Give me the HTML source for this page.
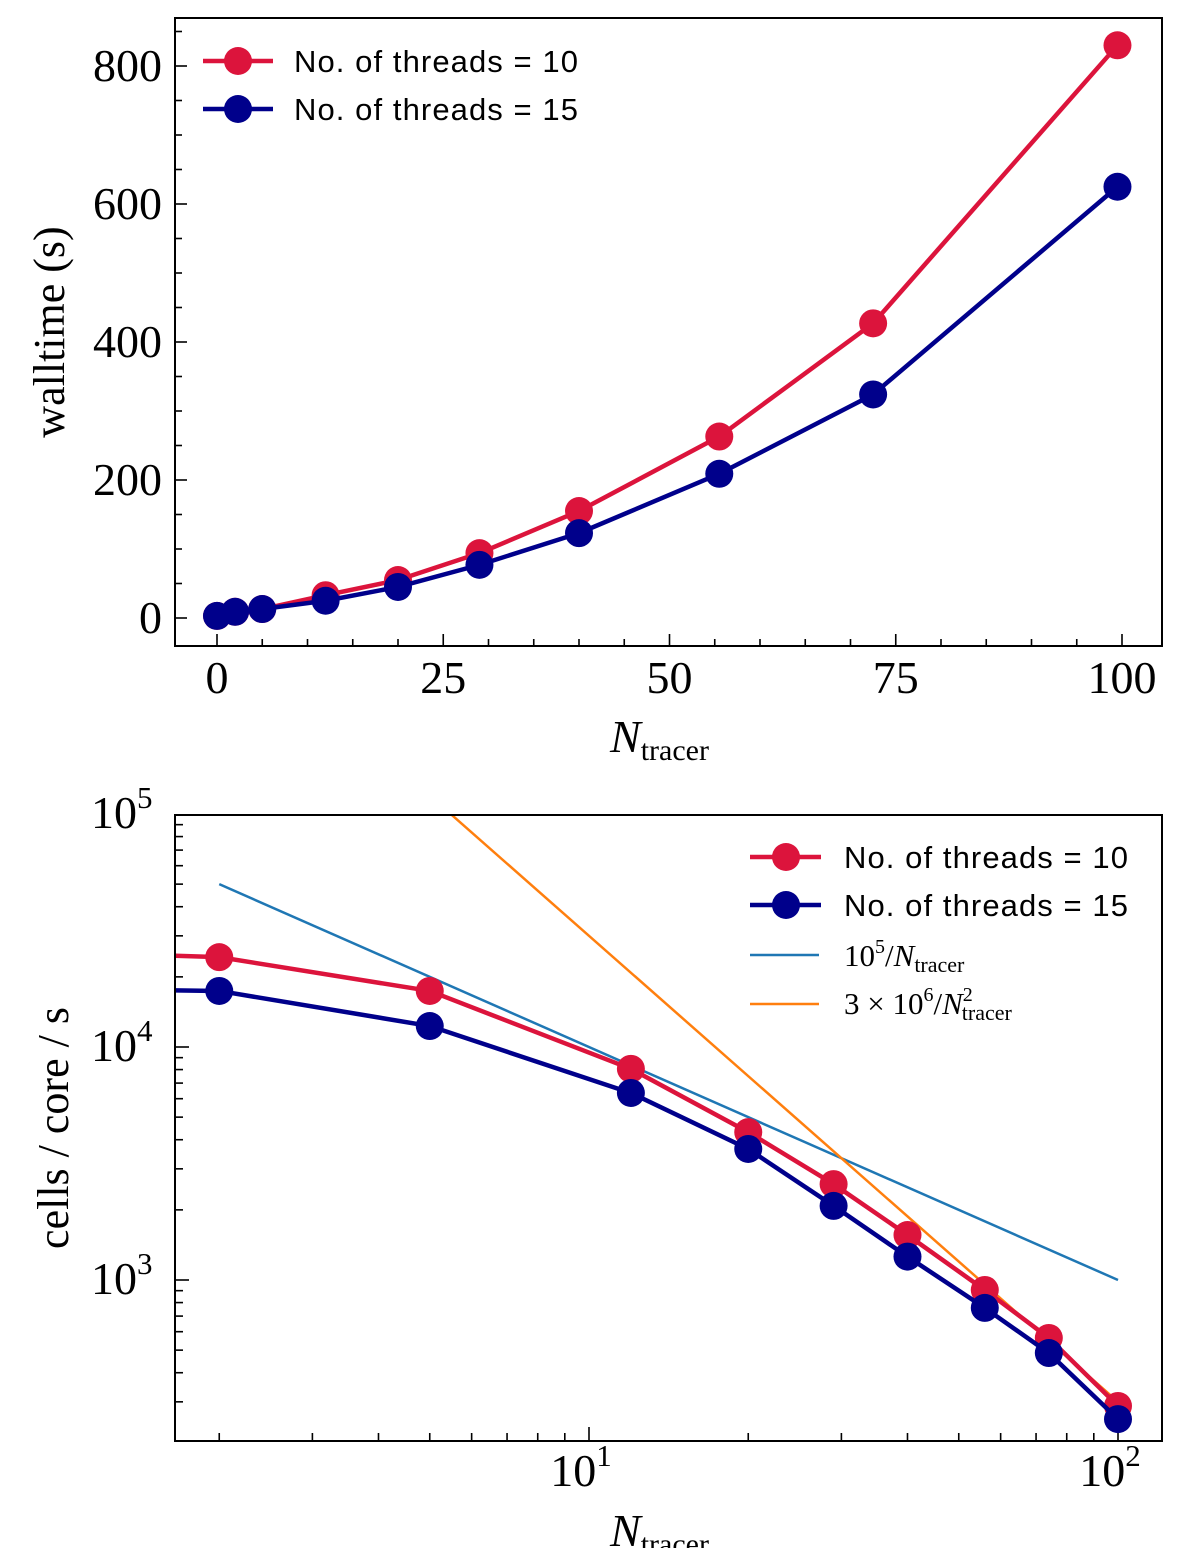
<!DOCTYPE html>
<html><head><meta charset="utf-8">
<style>
html,body{margin:0;padding:0;background:#fff;width:1200px;height:1548px;overflow:hidden}
svg{display:block}
.serif{font-family:"Liberation Serif",serif}
.sans{font-family:"Liberation Sans",sans-serif}
</style></head>
<body>
<svg id="fig" width="1200" height="1548" viewBox="0 0 1200 1548" xmlns="http://www.w3.org/2000/svg"></svg>
<script>
// ---- Top panel data ----
const topN = [0, 2, 5, 12, 20, 29, 40, 55.5, 72.5, 99.5];
const topWall10 = [3, 9, 13, 33, 55, 94, 155, 263, 427, 830];
const topWall15 = [3, 9, 13, 25, 45, 77, 123, 209, 324, 625];
const topXTicks = [0, 25, 50, 75, 100];
const topYTicks = [0, 200, 400, 600, 800];
// ---- Bottom panel data ----
const botN = [1, 2, 5, 12, 20, 29, 40, 56, 74, 100];
const botRate10 = [25500, 24300, 17400, 8060, 4310, 2580, 1560, 906, 564, 288];
const botRate15 = [17800, 17400, 12300, 6350, 3650, 2080, 1260, 759, 486, 253];
const refLinearN = [2, 100];
const refQuadN = [3, 100];
const botXTickExp = [1, 2];
const botYTickExp = [3, 4, 5];

const NS = "http://www.w3.org/2000/svg";
const svg = document.getElementById('fig');
function mk(tag, attrs, parent) {
  const e = document.createElementNS(NS, tag);
  for (const k in attrs) e.setAttribute(k, attrs[k]);
  (parent || svg).appendChild(e);
  return e;
}
const RED = "#dc143c", BLUE = "#00008b";

// ===== TOP PANEL =====
const T = {l:175, r:1162, t:18, b:646};
const tx = v => 217 + (v - 0) * (1122 - 217) / 100;
const ty = v => 618 - v * (618 - 66) / 800;
const gTop = mk('g', {});


mk('defs', {}).innerHTML = '<clipPath id="cTop"><rect x="175" y="18" width="987" height="628"/></clipPath><clipPath id="cBot"><rect x="175" y="815" width="987" height="626"/></clipPath>';

for (let v = 0; v <= 100; v += 5) {
  const x = tx(v), len = v % 25 === 0 ? 12 : 7;
  mk('line', {x1:x, x2:x, y1:T.b, y2:T.b-len, stroke:'#000', 'stroke-width':1.6}, gTop);
}
for (let v = 0; v <= 850; v += 50) {
  const y = ty(v); if (y < T.t) continue;
  const len = v % 200 === 0 ? 12 : 7;
  mk('line', {x1:T.l, x2:T.l+len, y1:y, y2:y, stroke:'#000', 'stroke-width':1.6}, gTop);
}
topXTicks.forEach(v => {
  const t = mk('text', {x:tx(v), y:693, 'text-anchor':'middle', 'font-size':46, class:'serif'}, gTop);
  t.textContent = v;
  
  
});
topYTicks.forEach(v => {
  const t = mk('text', {x:162, y:ty(v)+15, 'text-anchor':'end', 'font-size':46, class:'serif'}, gTop);
  t.textContent = v;
  
  
});
function series(g, xs, ys, fx, fy, col, name, clip) {
  const pts = xs.map((x,i) => fx(x)+','+fy(ys[i])).join(' ');
  const sg = mk('g', {'clip-path':'url(#'+clip+')'}, g);
  
  
  mk('polyline', {points:pts, fill:'none', stroke:col, 'stroke-width':4.5, 'stroke-linejoin':'round'}, sg);
  xs.forEach((x,i) => {
    const c = mk('circle', {cx:fx(x), cy:fy(ys[i]), r:14, fill:col}, sg);
    
    
  });
}
series(gTop, topN, topWall10, tx, ty, RED, 'series-threads-10', 'cTop');
series(gTop, topN, topWall15, tx, ty, BLUE, 'series-threads-15', 'cTop');
mk('rect', {x:T.l, y:T.t, width:T.r-T.l, height:T.b-T.t, fill:'none', stroke:'#000', 'stroke-width':2}, gTop);
const lgT = mk('g', {}, gTop);


[[RED,'No. of threads = 10',61],[BLUE,'No. of threads = 15',109]].forEach(([c,l,y]) => {
  mk('line', {x1:203, x2:273, y1:y, y2:y, stroke:c, 'stroke-width':4.5}, lgT);
  mk('circle', {cx:238, cy:y, r:14, fill:c}, lgT);
  const t = mk('text', {x:294, y:y+11, 'font-size':31, class:'sans', textLength:284}, lgT);
  t.textContent = l;
});
let yl = mk('text', {x:0, y:0, 'font-size':44, class:'serif', 'text-anchor':'middle', transform:'translate(64,332) rotate(-90)'}, gTop);
yl.textContent = 'walltime (s)';


let xl = mk('text', {x:610, y:752, 'font-size':46, class:'serif'}, gTop);
xl.innerHTML = '<tspan font-style="italic">N</tspan><tspan font-size="30" dy="8">tracer</tspan>';



// ===== BOTTOM PANEL =====
const B = {l:175, r:1162, t:815, b:1441};
const bx = v => 589 + (Math.log10(v) - 1) * 529;
const by = v => 1047 - (Math.log10(v) - 4) * 233;
const gBot = mk('g', {});


for (let e = 0; e <= 2; e++) for (let m = 1; m <= 9; m++) {
  const v = m * Math.pow(10, e), x = bx(v);
  if (x < B.l || x > B.r) continue;
  const len = m === 1 ? 14 : 8;
  mk('line', {x1:x, x2:x, y1:B.b, y2:B.b-len, stroke:'#000', 'stroke-width':1.6}, gBot);
}
for (let e = 2; e <= 5; e++) for (let m = 1; m <= 9; m++) {
  const v = m * Math.pow(10, e), y = by(v);
  if (y < B.t || y > B.b) continue;
  const len = m === 1 ? 14 : 8;
  mk('line', {x1:B.l, x2:B.l+len, y1:y, y2:y, stroke:'#000', 'stroke-width':1.6}, gBot);
}
botXTickExp.forEach(e => {
  const t = mk('text', {x:bx(Math.pow(10,e))-8, y:1486, 'text-anchor':'middle', 'font-size':46, class:'serif'}, gBot);
  t.innerHTML = '10<tspan font-size="31" dy="-20">' + e + '</tspan>';
  
  
});
botYTickExp.forEach(e => {
  const t = mk('text', {x:91, y:by(Math.pow(10,e))+14, 'font-size':46, class:'serif'}, gBot);
  t.innerHTML = '10<tspan font-size="31" dy="-20">' + e + '</tspan>';
  
  
});
const refG = mk('g', {'clip-path':'url(#cBot)'}, gBot);
const lin = mk('polyline', {points: refLinearN.map(n => bx(n)+','+by(1e5/n)).join(' '), fill:'none', stroke:'#1f77b4', 'stroke-width':2.5}, refG);


const quad = mk('polyline', {points: refQuadN.map(n => bx(n)+','+by(3e6/(n*n))).join(' '), fill:'none', stroke:'#ff7f0e', 'stroke-width':2.5}, refG);


series(gBot, botN, botRate10, bx, by, RED, 'series-threads-10-rate', 'cBot');
series(gBot, botN, botRate15, bx, by, BLUE, 'series-threads-15-rate', 'cBot');
mk('rect', {x:B.l, y:B.t, width:B.r-B.l, height:B.b-B.t, fill:'none', stroke:'#000', 'stroke-width':2}, gBot);
const lgB = mk('g', {}, gBot);


[[RED,'No. of threads = 10',857],[BLUE,'No. of threads = 15',905]].forEach(([c,l,y]) => {
  mk('line', {x1:750, x2:821, y1:y, y2:y, stroke:c, 'stroke-width':4.5}, lgB);
  mk('circle', {cx:786, cy:y, r:14, fill:c}, lgB);
  const t = mk('text', {x:844, y:y+11, 'font-size':31, class:'sans', textLength:284}, lgB);
  t.textContent = l;
});
mk('line', {x1:750, x2:819, y1:955, y2:955, stroke:'#1f77b4', 'stroke-width':2.5}, lgB);
mk('line', {x1:750, x2:819, y1:1004, y2:1004, stroke:'#ff7f0e', 'stroke-width':2.5}, lgB);
let l3 = mk('text', {x:844, y:966, 'font-size':31, class:'serif'}, lgB);
l3.innerHTML = '10<tspan font-size="20" dy="-13">5</tspan><tspan dy="13">/</tspan><tspan font-style="italic">N</tspan><tspan font-size="22" dy="6">tracer</tspan>';
let l4 = mk('text', {x:844, y:1014, 'font-size':31, class:'serif'}, lgB);
l4.innerHTML = '3 × 10<tspan font-size="20" dy="-13">6</tspan><tspan dy="13">/</tspan><tspan font-style="italic">N</tspan><tspan font-size="20" dy="-13">2</tspan><tspan font-size="22" dx="-11" dy="19">tracer</tspan>';
let yl2 = mk('text', {x:0, y:0, 'font-size':44, class:'serif', 'text-anchor':'middle', transform:'translate(68,1128) rotate(-90)'}, gBot);
yl2.textContent = 'cells / core / s';


let xl2 = mk('text', {x:610, y:1546, 'font-size':46, class:'serif'}, gBot);
xl2.innerHTML = '<tspan font-style="italic">N</tspan><tspan font-size="30" dy="8">tracer</tspan>';


</script>
</body></html>
